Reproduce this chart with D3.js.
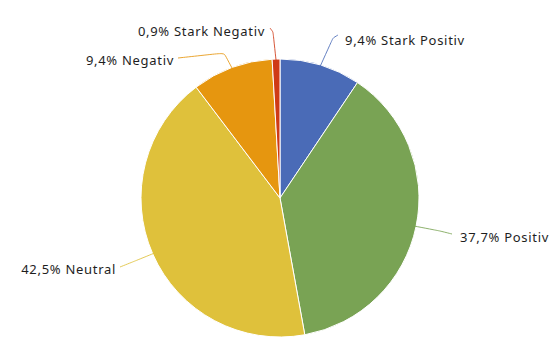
<!DOCTYPE html>
<html>
<head>
<meta charset="utf-8">
<script src="https://cdn.jsdelivr.net/npm/d3@7"></script>
<style>
  body { margin: 0; background: #fff; }
  text { font-family: "Noto Sans", sans-serif; font-size: 13px; letter-spacing: 0.7px; fill: #1e1e1e; }
</style>
</head>
<body>
<svg width="555" height="359"></svg>
<script>
// data
let categories = ['Stark Positiv', 'Positiv', 'Neutral', 'Negativ', 'Stark Negativ'];
let values = [9.4, 37.7, 42.5, 9.4, 0.9];
let labels = ['9,4%', '37,7%', '42,5%', '9,4%', '0,9%'];
let colors = ['#4a6bb7', '#79a354', '#dfc13b', '#e6960f', '#cf3a16'];

// layout of the labels (leader elbow, line end, text anchor)
let labelLayout = [
  { elbow: [333, 38], end: [338, 35], text: [345, 40], anchor: 'start' },
  { elbow: [440, 231], end: [452, 234], text: [460, 237], anchor: 'start' },
  { elbow: [135, 261], end: [120, 267], text: [116, 269], anchor: 'end' },
  { elbow: [224, 53], end: [178, 58], text: [174, 60], anchor: 'end' },
  { elbow: [273, 32], end: [270, 28], text: [265, 31], anchor: 'end' }
];

let svg = d3.select('svg');
let center = [280, 198];
let radius = 139;

let pie = d3.pie().sort(null).value(function(d) { return d; });
let arcs = pie(values);
let arc = d3.arc().innerRadius(0).outerRadius(radius);

let g = svg.append('g').attr('transform', 'translate(' + center[0] + ',' + center[1] + ')');

g.selectAll('path').data(arcs).enter().append('path')
  .attr('d', arc)
  .attr('fill', function(d, i) { return colors[i]; })
  .attr('stroke', '#fff')
  .attr('stroke-width', 1);

/* leader lines */
let line = d3.line().curve(d3.curveBasis);
let outer = d3.arc().innerRadius(radius - 2).outerRadius(radius - 2);

svg.append('g').selectAll('path').data(arcs).enter().append('path')
  .attr('d', function(d, i) {
    let c = outer.centroid(d);
    let start = [c[0] + center[0], c[1] + center[1]];
    let L = labelLayout[i];
    // small rounded elbow
    let a = [L.elbow[0] + (start[0] - L.elbow[0]) * 0.15, L.elbow[1] + (start[1] - L.elbow[1]) * 0.15];
    let b = [L.elbow[0] + (L.end[0] - L.elbow[0]) * 0.3, L.elbow[1] + (L.end[1] - L.elbow[1]) * 0.3];
    return line([start, a, L.elbow, b, L.end]);
  })
  .attr('fill', 'none')
  .attr('stroke', function(d, i) { return colors[i]; })
  .attr('stroke-opacity', 0.85)
  .attr('stroke-width', 1);

svg.append('g').selectAll('text').data(arcs).enter().append('text')
  .attr('x', function(d, i) { return labelLayout[i].text[0]; })
  .attr('y', function(d, i) { return labelLayout[i].text[1]; })
  .attr('dy', '0.35em')
  .attr('text-anchor', function(d, i) { return labelLayout[i].anchor; })
  .text(function(d, i) { return labels[i] + ' ' + categories[i]; });
</script>
</body>
</html>
